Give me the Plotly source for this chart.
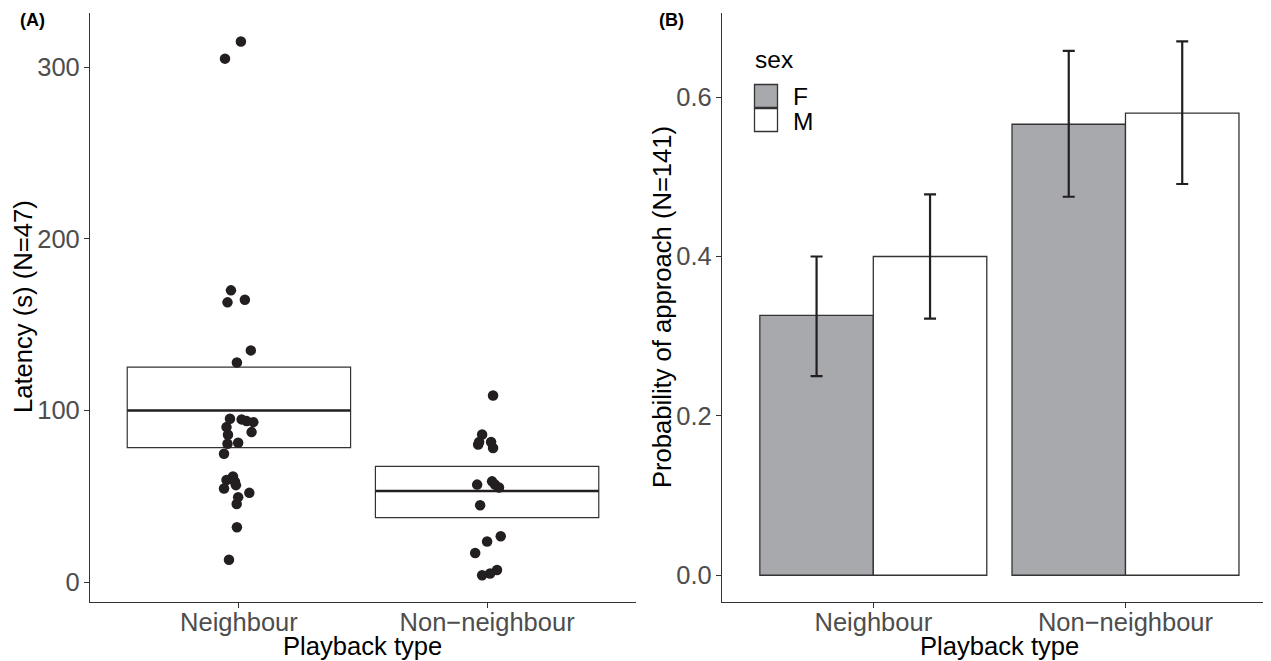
import plotly.graph_objects as go

# ---------------- data ----------------
playback_types = ["Neighbour", "Non\u2212neighbour"]

neighbour_latency = [315, 305, 170, 164.5, 163, 135, 128, 95.2, 94.8, 93.8, 93.2, 90.3,
                     87.4, 85.9, 80.6, 81.2, 74.8, 61.5, 59.5, 58.5, 56.5, 54.5, 52,
                     49.5, 45.5, 32, 13]
neighbour_jitter = [0.008, -0.056, -0.032, 0.024, -0.046, 0.048, -0.008, -0.036, 0.011,
                    0.031, 0.058, -0.050, 0.051, -0.044, -0.046, -0.003, -0.060, -0.024,
                    -0.050, -0.016, -0.012, -0.060, 0.042, -0.003, -0.009, -0.008, -0.040]
nonneighbour_latency = [108.7, 86, 80.2, 81.6, 81.6, 78.1, 56.8, 58.7, 56.8, 55.1, 44.8,
                        26.7, 23.7, 17, 7, 5, 4]
nonneighbour_jitter = [0.024, -0.020, -0.036, -0.032, 0.016, 0.024, -0.040, 0.020, 0.032,
                       0.048, -0.028, 0.055, 0.0, -0.048, 0.040, 0.012, -0.020]

crossbar_mid = [100.0, 53.1]
crossbar_low = [78.3, 37.6]
crossbar_high = [125.2, 67.4]

# Panel B: probability of approach by sex
sexes = ["F", "M"]
prob_F = [0.326, 0.566]
prob_F_low = [0.250, 0.475]
prob_F_high = [0.400, 0.658]
prob_M = [0.400, 0.580]
prob_M_low = [0.322, 0.491]
prob_M_high = [0.478, 0.670]

# ---------------- styling ----------------
PAGE_OFF = 8                      # default body margin of the html page
W, H = 1271 - PAGE_OFF, 661 - PAGE_OFF
FONT = "Liberation Sans, Arial, Helvetica, sans-serif"
INK = "#231f20"
AX = "#333333"
TICK_TXT = "#4d4d4d"
F_FILL = "#a7a9ac"
TICK_SIZE = 25.5
TITLE_SIZE = 25.6


def px(x):
    return (x - PAGE_OFF) / W


def py(y):
    return 1 - (y - PAGE_OFF) / H


fig = go.Figure()

# Panel A crossbar boxes
fig.add_trace(go.Bar(
    x=[1, 2],
    y=[h - l for h, l in zip(crossbar_high, crossbar_low)],
    base=crossbar_low,
    width=0.9,
    marker=dict(color="white", line=dict(color=AX, width=1.2)),
    xaxis="x", yaxis="y", showlegend=False, hoverinfo="skip",
))
# crossbar middle lines
mx, my = [], []
for i, m in enumerate(crossbar_mid):
    mx += [i + 1 - 0.45, i + 1 + 0.45, None]
    my += [m, m, None]
fig.add_trace(go.Scatter(x=mx, y=my, mode="lines", line=dict(color=INK, width=2.5),
                         xaxis="x", yaxis="y", showlegend=False, hoverinfo="skip"))
# points
pts_x = [1 + j for j in neighbour_jitter] + [2 + j for j in nonneighbour_jitter]
pts_y = neighbour_latency + nonneighbour_latency
fig.add_trace(go.Scatter(x=pts_x, y=pts_y, mode="markers",
                         marker=dict(color=INK, size=10.5, line=dict(width=0)),
                         xaxis="x", yaxis="y", showlegend=False))

# Panel B bars
for name, vals, lo, hi, fill in [("F", prob_F, prob_F_low, prob_F_high, F_FILL),
                                  ("M", prob_M, prob_M_low, prob_M_high, "white")]:
    fig.add_trace(go.Bar(
        x=playback_types, y=vals, name=name,
        marker=dict(color=fill, line=dict(color=AX, width=1.3)),
        error_y=dict(type="data", symmetric=False,
                     array=[h - v for h, v in zip(hi, vals)],
                     arrayminus=[v - l for v, l in zip(vals, lo)],
                     color=INK, thickness=2.2, width=6),
        xaxis="x2", yaxis="y2", showlegend=False,
    ))

axis_common = dict(showline=True, linecolor=AX, linewidth=1.2, ticks="outside",
                   ticklen=5, tickcolor=AX, tickwidth=1.2, showgrid=False, zeroline=False,
                   tickfont=dict(family=FONT, size=TICK_SIZE, color=TICK_TXT))

ydom = [py(602), py(13)]
fig.update_layout(
    width=W, height=H,
    margin=dict(l=0, r=0, t=0, b=0),
    paper_bgcolor="white", plot_bgcolor="white",
    barmode="group", bargap=0.1, bargroupgap=0,
    font=dict(family=FONT),
    xaxis=dict(domain=[px(90), px(636)], range=[0.4, 2.6], tickvals=[1, 2],
               ticktext=playback_types, anchor="y", ticklabelstandoff=-8, **axis_common),
    yaxis=dict(domain=ydom, range=[-11.6, 331.6], tickvals=[0, 100, 200, 300],
               anchor="x", ticklabelstandoff=-1, **axis_common),
    xaxis2=dict(domain=[px(722), 1.0], range=[-0.6, 1.577], anchor="y2",
                type="category", ticklabelstandoff=-8, **axis_common),
    yaxis2=dict(domain=ydom, range=[-0.0336, 0.7056], tickvals=[0, 0.2, 0.4, 0.6],
                tickformat=".1f", anchor="x2", ticklabelstandoff=-1, **axis_common),
)

ann = []
title_font = dict(family=FONT, size=TITLE_SIZE, color="black")
ann.append(dict(text="Playback type", x=px(363), y=py(646), xref="paper", yref="paper",
                showarrow=False, xanchor="center", yanchor="middle", font=title_font))
ann.append(dict(text="Playback type", x=px(999.5), y=py(646), xref="paper", yref="paper",
                showarrow=False, xanchor="center", yanchor="middle", font=title_font))
ann.append(dict(text="Latency (s) (N=47)", x=px(23), y=py(307), xref="paper", yref="paper",
                showarrow=False, xanchor="center", yanchor="middle", textangle=-90,
                font=title_font))
ann.append(dict(text="Probability of approach (N=141)", x=px(662), y=py(307), xref="paper",
                yref="paper", showarrow=False, xanchor="center", yanchor="middle",
                textangle=-90, font=title_font))
ann.append(dict(text="<b>(A)</b>", x=px(18), y=py(20), xref="paper", yref="paper",
                showarrow=False, xanchor="left", yanchor="middle",
                font=dict(family=FONT, size=18, color="black")))
ann.append(dict(text="<b>(B)</b>", x=px(657), y=py(20), xref="paper", yref="paper",
                showarrow=False, xanchor="left", yanchor="middle",
                font=dict(family=FONT, size=18, color="black")))
# manual legend
ann.append(dict(text="sex", x=px(753), y=py(60), xref="paper", yref="paper",
                showarrow=False, xanchor="left", yanchor="middle",
                font=dict(family=FONT, size=24.5, color="black")))
shapes = []
for i, (s, fill) in enumerate(zip(sexes, [F_FILL, "white"])):
    top = 84.5 + i * 24
    shapes.append(dict(type="rect", xref="paper", yref="paper",
                       x0=px(754.5), x1=px(777.5), y0=py(top + 23), y1=py(top),
                       fillcolor=fill, line=dict(color=AX, width=1.3)))
    ann.append(dict(text=s, x=px(791), y=py(top + 12), xref="paper", yref="paper",
                    showarrow=False, xanchor="left", yanchor="middle", height=24,
                    font=dict(family=FONT, size=24.5, color="black")))

fig.update_layout(annotations=ann, shapes=shapes)
fig.write_html("out.html")
